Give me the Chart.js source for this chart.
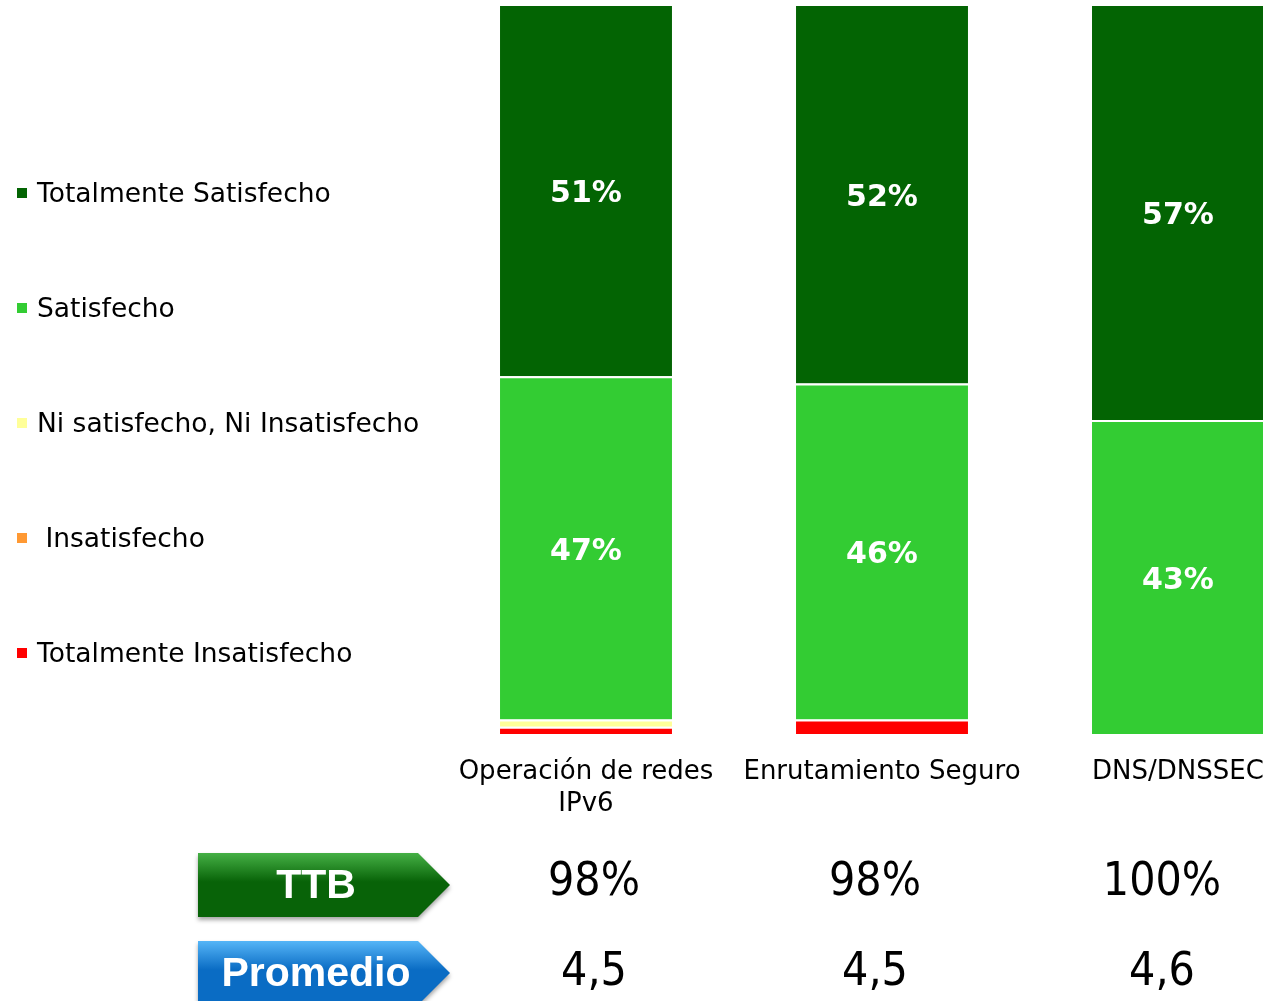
<!DOCTYPE html>
<html>
<head>
<meta charset="utf-8">
<script src="https://cdn.jsdelivr.net/npm/chart.js@4"></script>
<style>
  body { margin: 0; overflow: hidden; background: #fff; }
  #wrap { width: 1326px; height: 1001px; }
</style>
</head>
<body>
<div id="wrap"><canvas id="chart1" width="1326" height="1001"></canvas></div>
<script>
var categories = [["Operación de redes", "IPv6"], "Enrutamiento Seguro", "DNS/DNSSEC"];
var totInsatisfecho = [1, 2, 0];
var insatisfecho = [0, 0, 0];
var niNi = [1, 0, 0];
var satisfecho = [47, 46, 43];
var totSatisfecho = [51, 52, 57];
var ttb = ["98%", "98%", "100%"];
var promedio = ["4,5", "4,5", "4,6"];

var font = "'DejaVu Sans', sans-serif";
var bigFont = "'Liberation Sans Narrow', 'DejaVu Sans Condensed', 'Liberation Sans', sans-serif";

// legend, bar labels and the TTB / Promedio rows
var extras = {
  id: 'extras',
  afterDatasetsDraw: function (chart) {
    var c = chart.ctx;
    c.save();
    // segment labels
    c.font = "bold 30px " + font;
    c.fillStyle = '#fff';
    c.textAlign = 'center';
    c.textBaseline = 'middle';
    chart.data.datasets.forEach(function (ds, i) {
      chart.getDatasetMeta(i).data.forEach(function (bar, j) {
        if (ds.data[j] >= 5) {
          c.fillText(ds.data[j] + '%', bar.x, (bar.y + bar.base) / 2 + 4);
        }
      });
    });

    // legend on the left (top series first)
    c.textAlign = 'left';
    c.font = "26.5px " + font;
    var dss = chart.data.datasets.slice().reverse();
    dss.forEach(function (ds, k) {
      var y = 193 + k * 115;
      c.fillStyle = ds.backgroundColor;
      c.fillRect(17, y - 5, 10, 10);
      c.fillStyle = '#000';
      c.fillText(ds.label, 37, y + 2);
    });

    // arrows
    function arrow(y0, h, top, bottom, text) {
      var g = c.createLinearGradient(0, y0, 0, y0 + h);
      g.addColorStop(0, top);
      g.addColorStop(0.45, bottom);
      g.addColorStop(1, bottom);
      c.save();
      c.shadowColor = 'rgba(0,0,0,0.35)';
      c.shadowOffsetY = 3;
      c.shadowBlur = 4;
      c.beginPath();
      c.moveTo(198, y0);
      c.lineTo(418, y0);
      c.lineTo(450, y0 + h / 2);
      c.lineTo(418, y0 + h);
      c.lineTo(198, y0 + h);
      c.closePath();
      c.fillStyle = g;
      c.fill();
      c.restore();
      c.fillStyle = '#fff';
      c.font = "bold 41px 'Liberation Sans', sans-serif";
      c.textAlign = 'center';
      c.fillText(text, 316, y0 + h / 2 + 2);
    }
    arrow(853, 64, '#45b045', '#086308', 'TTB');
    arrow(941, 64, '#55b5f7', '#0a6cc4', 'Promedio');

    // values rows
    var xs = [594, 875, 1162];
    c.fillStyle = '#000';
    c.font = "46px " + bigFont;
    c.textAlign = 'center';
    ttb.forEach(function (t, i) { c.fillText(t, xs[i], 883); });
    promedio.forEach(function (t, i) { c.fillText(t, xs[i], 973); });
    c.restore();
  }
};

var ctx = document.getElementById('chart1').getContext('2d');
var chart = new Chart(ctx, {
  type: 'bar',
  data: {
    labels: categories,
    datasets: [
      { label: "Totalmente Insatisfecho", backgroundColor: '#ff0000', data: totInsatisfecho },
      { label: " Insatisfecho", backgroundColor: '#ff9933', data: insatisfecho },
      { label: "Ni satisfecho, Ni Insatisfecho", backgroundColor: '#ffff99', data: niNi },
      { label: "Satisfecho", backgroundColor: '#33cc33', data: satisfecho },
      { label: "Totalmente Satisfecho", backgroundColor: '#036403', data: totSatisfecho }
    ]
  },
  options: {
    responsive: false,
    animation: false,
    layout: { padding: { left: 438, right: 0, top: 4, bottom: 0 } },
    datasets: {
      bar: {
        categoryPercentage: 1,
        barPercentage: 0.581,
        borderColor: '#fff',
        borderWidth: { top: 2, bottom: 0, left: 0, right: 0 },
        borderSkipped: false
      }
    },
    plugins: { legend: { display: false }, tooltip: { enabled: false } },
    scales: {
      x: {
        stacked: true,
        grid: { display: false },
        border: { display: false },
        ticks: { color: '#000', font: { family: font, size: 26, lineHeight: 1.23 }, padding: 14, maxRotation: 0, autoSkip: false },
        afterFit: function (s) { s.height = 267; }
      },
      y: { stacked: true, display: false, min: 0, max: 100 }
    }
  },
  plugins: [extras]
});
</script>
</body>
</html>
